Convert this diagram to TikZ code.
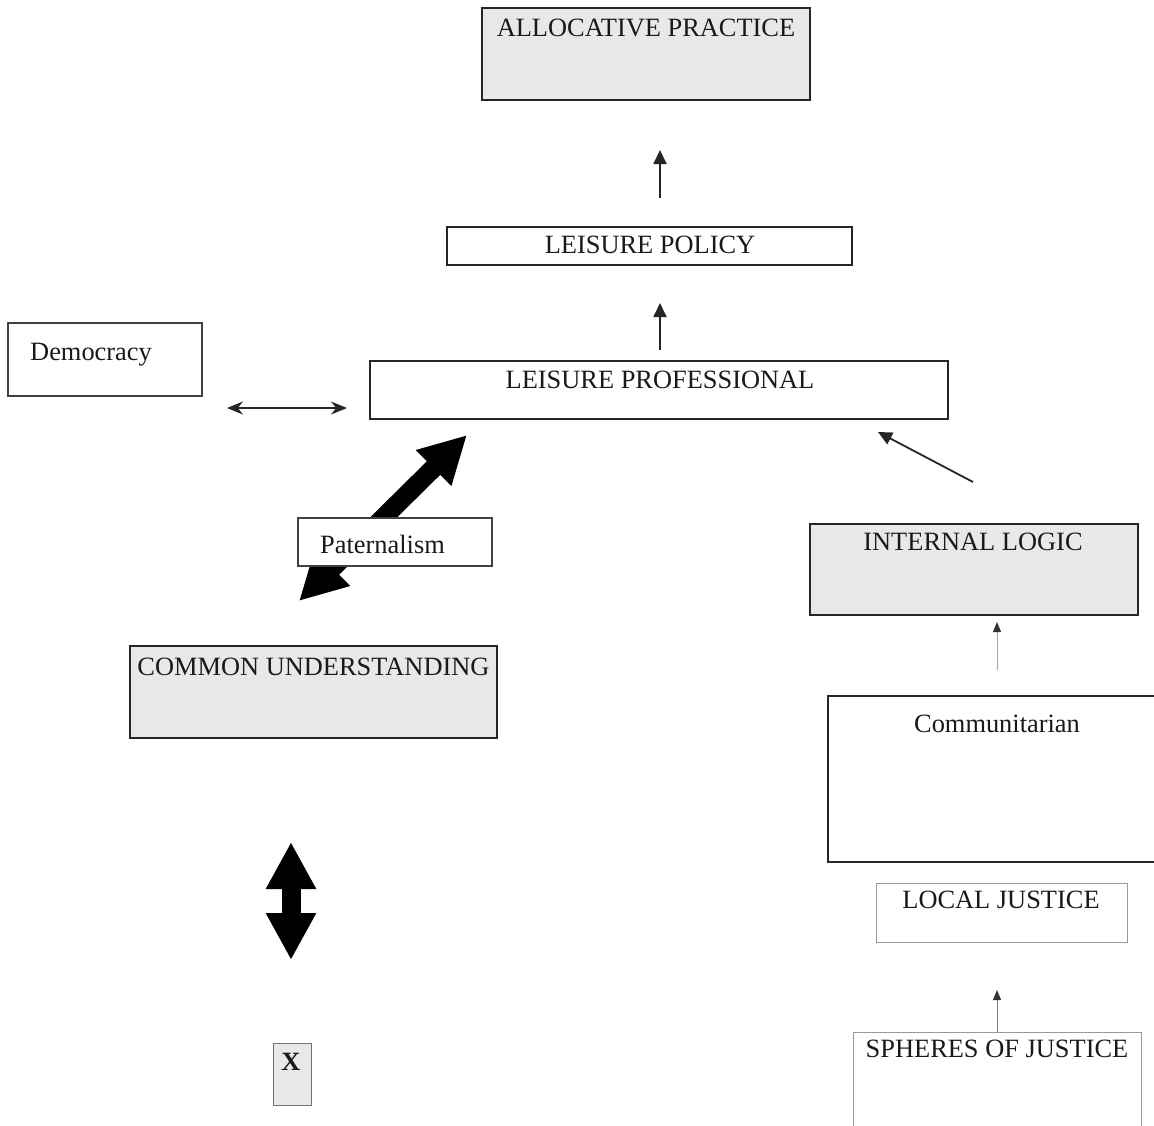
\documentclass[tikz,border=0pt]{standalone}
\usepackage{fontspec}
\setmainfont{Liberation Serif}
\usetikzlibrary{arrows.meta}
\begin{document}
\begin{tikzpicture}[x=1pt,y=-1pt,
  box/.style={draw=black!85, line width=1.8pt, anchor=north west, inner sep=0pt, outer sep=0pt, fill=white},
  gbox/.style={box, fill=black!9},
  lbox/.style={draw=black!40, line width=1pt, anchor=north west, inner sep=0pt, outer sep=0pt, fill=white},
  txt/.style={anchor=base, inner sep=0pt, font=\fontsize{26.4}{30}\selectfont, text=black!90},
  thin arrow/.style={line width=1.8pt, draw=black!85, -{Triangle[length=14pt,width=13pt]}},
  pale arrow/.style={line width=1pt, draw=black!35, -{Triangle[length=10pt,width=8pt,fill=black!80,color=black!80]}},
  fat arrow/.style={line width=19pt, {Triangle[length=47pt,width=47pt]}-{Triangle[length=47pt,width=47pt]}},
]
\clip (0,0) rectangle (1154,1125);
\fill[white] (0,0) rectangle (1154,1125);

% boxes
\node[gbox, minimum width=328pt, minimum height=92pt] (ap) at (482,8) {};
\node[box, minimum width=405pt, minimum height=38pt] (lp) at (447,227) {};
\node[box, minimum width=578pt, minimum height=58pt] (lpro) at (370,361) {};
\node[box, draw=black!75, line width=1.4pt, minimum width=194pt, minimum height=73pt] (dem) at (8,323) {};
\node[gbox, minimum width=328pt, minimum height=91pt] (il) at (810,524) {};
\node[gbox, minimum width=367pt, minimum height=92pt] (cu) at (130,646) {};
\node[box, line width=1.6pt, minimum width=340pt, minimum height=166pt] (comm) at (828,696) {};
\node[lbox, minimum width=251pt, minimum height=59pt] (lj) at (876,883) {};
\node[lbox, minimum width=288pt, minimum height=110pt] (sp) at (853,1032) {};
\node[gbox, draw=black!55, line width=1pt, minimum width=38pt, minimum height=62pt] (xb) at (273,1043) {};

% thick double arrows
\draw[fat arrow] ([shift={(-14.5pt,45pt)}]cu.north) -- ([shift={(97pt,-16pt)}]lpro.south west);
\draw[fat arrow] ([shift={(-22.5pt,-104pt)}]cu.south) -- ([shift={(-1pt,83pt)}]xb.north);

% label box lying over the diagonal arrow
\node[box, draw=black!75, line width=1.2pt, minimum width=194pt, minimum height=48pt] (pat) at (298,518) {};

% thin connectors
\draw[thin arrow, shorten <=29pt, shorten >=50pt] ([xshift=10.5pt]lp.north) -- ([xshift=14pt]ap.south);
\draw[thin arrow, shorten <=11pt, shorten >=38pt] ([xshift=1pt]lpro.north) -- ([xshift=10.5pt]lp.south);
\draw[line width=1.8pt, draw=black!85, {Stealth[length=16pt,width=13pt]}-{Stealth[length=16pt,width=13pt]}]
  ([shift={(25pt,-12pt)}]dem.south east) -- ([shift={(-23pt,11pt)}]lpro.south west);
\draw[thin arrow] ([shift={(-1pt,42pt)}]il.north) -- ([shift={(-70pt,-13pt)}]lpro.south east);
\draw[pale arrow] ([shift={(-1pt,26pt)}]comm.north) -- ([shift={(23pt,-7pt)}]il.south);
\draw[pale arrow, draw=black!50] (sp.north) -- ([shift={(-4.5pt,-48pt)}]lj.south);

% texts
\node[txt] (tap) at (646,36) {ALLOCATIVE PRACTICE};
\node[txt] (tlp) at (650,253) {LEISURE POLICY};
\node[txt] (tlpro) at (660,388) {LEISURE PROFESSIONAL};
\node[txt, anchor=base west] (tdem) at (30,360) {Democracy};
\node[txt, anchor=base west] (tpat) at (320,553) {Paternalism};
\node[txt] (til) at (973,550) {INTERNAL LOGIC};
\node[txt] (tcu) at (313.5,675) {COMMON UNDERSTANDING};
\node[txt] (tcomm) at (997,732) {Communitarian};
\node[txt] (tlj) at (1001,908) {LOCAL JUSTICE};
\node[txt] (tsp) at (997,1057) {SPHERES OF JUSTICE};
\node[txt, font=\fontsize{26.4}{30}\selectfont\bfseries] (tx) at (291,1070) {X};
\end{tikzpicture}
\end{document}
